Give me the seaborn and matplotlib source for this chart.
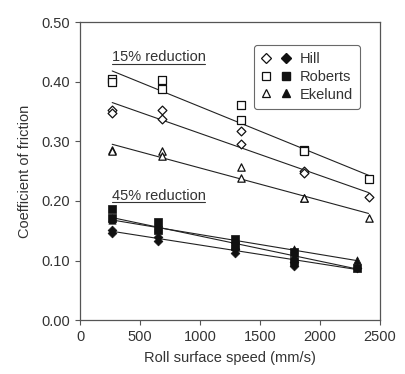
import numpy as np
import pandas as pd
import matplotlib
matplotlib.use("Agg")
import matplotlib.pyplot as plt
import seaborn as sns
from matplotlib.lines import Line2D
from matplotlib.legend_handler import HandlerTuple

# 15% reduction, open markers
speed_15 = [267, 267, 679, 679, 1343, 1343, 1866, 1866, 2405]
hill_15 = [0.352, 0.348, 0.352, 0.338, 0.317, 0.295, 0.250, 0.247, 0.207]
roberts_15 = [0.405, 0.400, 0.402, 0.388, 0.361, 0.336, 0.285, 0.283, 0.236]
ekelund_15 = [0.286, 0.283, 0.284, 0.275, 0.257, 0.239, 0.205, 0.205, 0.172]

# 45% reduction, filled markers
speed_45 = [267, 267, 645, 645, 1293, 1293, 1785, 1785, 2305]
hill_45 = [0.152, 0.146, 0.139, 0.133, 0.120, 0.113, 0.097, 0.091, 0.087]
roberts_45 = [0.186, 0.172, 0.164, 0.152, 0.136, 0.125, 0.115, 0.100, 0.087]
ekelund_45 = [0.172, 0.168, 0.158, 0.155, 0.131, 0.128, 0.120, 0.108, 0.101]

# fitted trend lines (start / end)
fit_x_15 = [267, 2405]
fit_hill_15 = [0.365, 0.214]
fit_roberts_15 = [0.418, 0.243]
fit_ekelund_15 = [0.295, 0.179]
fit_x_45 = [267, 2305]
fit_hill_45 = [0.149, 0.085]
fit_roberts_45 = [0.172, 0.086]
fit_ekelund_45 = [0.168, 0.100]

methods = ["Hill", "Roberts", "Ekelund"]
marker_map = {"Hill": "D", "Roberts": "s", "Ekelund": "^"}
size_map = {"Hill": 20, "Roberts": 30, "Ekelund": 28}

sns.set_style("ticks")
plt.rcParams["font.family"] = ["Liberation Sans", "DejaVu Sans"]

rows = []
for m, v15, v45 in zip(methods, [hill_15, roberts_15, ekelund_15],
                       [hill_45, roberts_45, ekelund_45]):
    rows += [dict(speed=s, cof=c, method=m, red="15%") for s, c in zip(speed_15, v15)]
    rows += [dict(speed=s, cof=c, method=m, red="45%") for s, c in zip(speed_45, v45)]
df = pd.DataFrame(rows)

fits = []
for m, f15, f45 in zip(methods, [fit_hill_15, fit_roberts_15, fit_ekelund_15],
                       [fit_hill_45, fit_roberts_45, fit_ekelund_45]):
    fits += [dict(speed=s, cof=c, line=m + "15") for s, c in zip(fit_x_15, f15)]
    fits += [dict(speed=s, cof=c, line=m + "45") for s, c in zip(fit_x_45, f45)]
fit_df = pd.DataFrame(fits)

fig = plt.figure(figsize=(4.05, 3.74), dpi=100)
ax = fig.add_axes([0.198, 0.144, 0.740, 0.797])

sns.lineplot(data=fit_df, x="speed", y="cof", units="line", estimator=None,
             color="#222222", linewidth=0.8, ax=ax, legend=False)

for m in methods:
    d = df[(df.method == m) & (df.red == "15%")]
    sns.scatterplot(data=d, x="speed", y="cof", marker=marker_map[m], s=size_map[m],
                    facecolor="white", edgecolor="#111111", linewidth=0.9, ax=ax, zorder=3)
    d = df[(df.method == m) & (df.red == "45%")]
    sns.scatterplot(data=d, x="speed", y="cof", marker=marker_map[m], s=size_map[m],
                    color="#111111", edgecolor="#111111", linewidth=0.5, ax=ax, zorder=3)

ax.set_xlim(0, 2500)
ax.set_ylim(0, 0.5)
ax.set_xticks([0, 500, 1000, 1500, 2000, 2500])
ax.set_yticks([0, 0.1, 0.2, 0.3, 0.4, 0.5])
ax.yaxis.set_major_formatter(matplotlib.ticker.FormatStrFormatter("%.2f"))
ax.tick_params(direction="out", length=3.6, width=0.8, colors="#555555",
               labelcolor="#333333", labelsize=10.5, pad=3.5)
for sp in ax.spines.values():
    sp.set_color("#555555")
    sp.set_linewidth(0.9)
ax.set_xlabel("Roll surface speed (mm/s)", fontsize=10.5, color="#333333", labelpad=5)
ax.set_ylabel("Coefficient of friction", fontsize=10.5, color="#333333", labelpad=7)

labels = [("15% reduction", 0.434), ("45% reduction", 0.202)]
fig.canvas.draw()
for txt, yb in labels:
    t = ax.text(262, yb, txt, fontsize=10.5, color="#333333", va="baseline", ha="left")
    bb = t.get_window_extent(renderer=fig.canvas.get_renderer())
    inv = ax.transData.inverted()
    (x0, _), (x1, _) = inv.transform([(bb.x0, 0), (bb.x1, 0)])
    ax.plot([x0, x1], [yb - 0.004, yb - 0.004], color="#333333", linewidth=0.8)

handles = []
for m in methods:
    ms = 6 if m != "Hill" else 5
    h_open = Line2D([], [], marker=marker_map[m], linestyle="none", markersize=ms,
                    markerfacecolor="white", markeredgecolor="#111111", markeredgewidth=0.9)
    h_fill = Line2D([], [], marker=marker_map[m], linestyle="none", markersize=ms,
                    markerfacecolor="#111111", markeredgecolor="#111111")
    handles.append((h_open, h_fill))
leg = ax.legend(handles, methods, handler_map={tuple: HandlerTuple(ndivide=None, pad=0.8)},
                loc="upper right", bbox_to_anchor=(0.933, 0.923), borderaxespad=0,
                fontsize=10.5, frameon=True, fancybox=True, handlelength=2.0,
                handletextpad=0.6, labelspacing=0.25, borderpad=0.5, edgecolor="#444444")
leg.get_frame().set_linewidth(0.8)
for t in leg.get_texts():
    t.set_color("#333333")

fig.savefig("out.png", dpi=100, facecolor="white")
